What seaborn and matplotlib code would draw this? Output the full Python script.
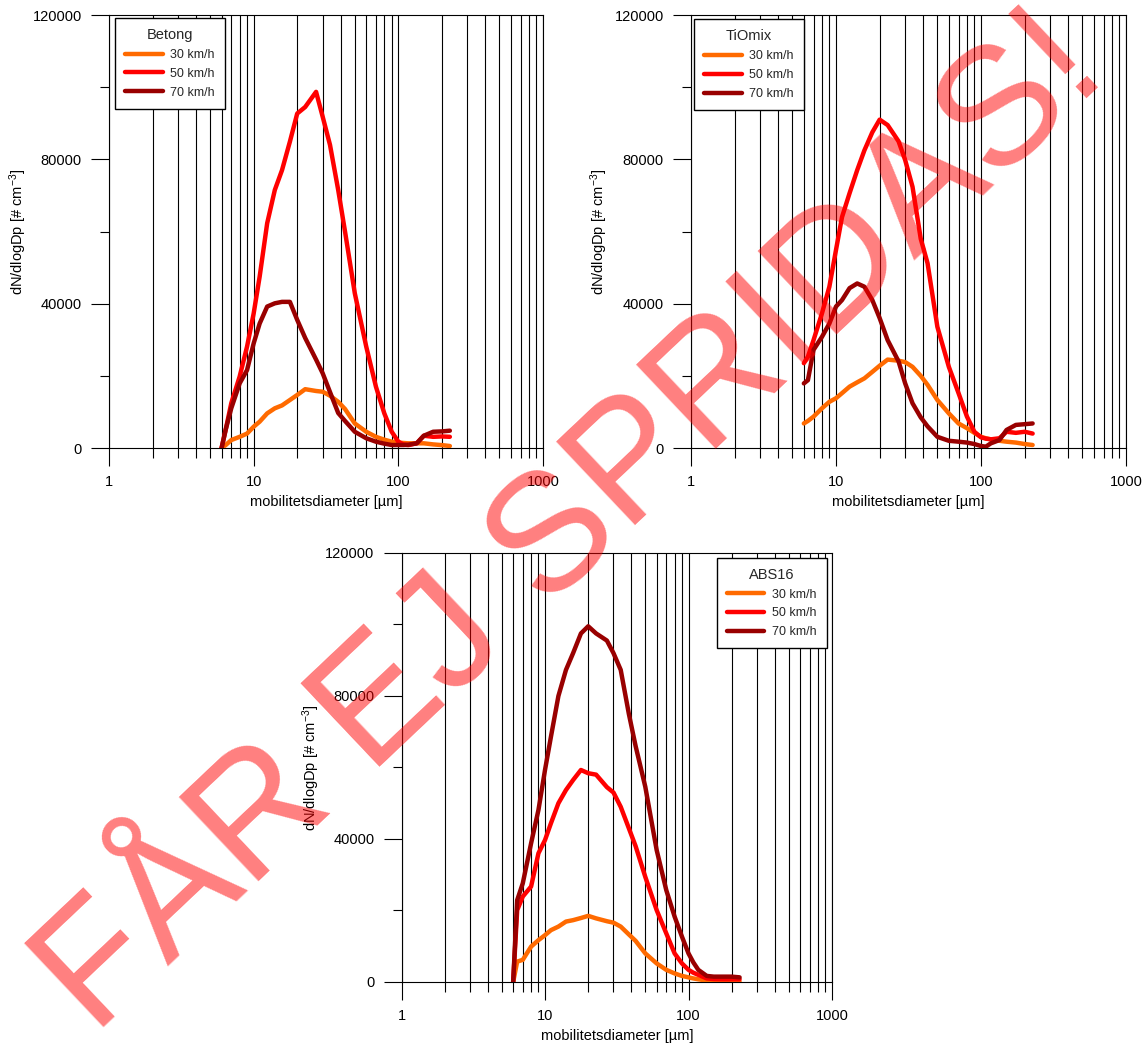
import matplotlib
matplotlib.use("Agg")
import matplotlib.pyplot as plt
from matplotlib.lines import Line2D
import numpy as np
import pandas as pd
import seaborn as sns

# ---------------- data ----------------
diam = [6.0, 6.4, 7.0, 8.0, 9.0, 10.0, 11.0, 12.4, 14.0, 15.7, 17.8, 20.0, 22.7, 27.0,
        30.0, 33.7, 38.4, 42.8, 50.0, 60.0, 70.0, 80.0, 90.0, 100.0, 108.0, 117.0,
        134.0, 150.0, 174.0, 200.0, 227.0]
speeds = ["30 km/h", "50 km/h", "70 km/h"]
panel_names = ["Betong", "TiOmix", "ABS16"]

betong_30 = [0, 800, 2200, 3100, 4000, 5900, 7300, 9600, 11000, 11800, 13300, 14700, 16300, 15800,
             15600, 14500, 12800, 10800, 6800, 4500, 3100, 2300, 1750, 1500, 1400, 1300,
             1300, 1300, 1000, 800, 550]
betong_50 = [0, 5000, 12400, 19800, 28100, 37300, 47500, 62300, 71500, 77000, 84900, 92700, 94500, 98700,
             91800, 84000, 71500, 60000, 42900, 28100, 17000, 9600, 4500, 1750, 1000, 800,
             1300, 3400, 3100, 3200, 3100]
betong_70 = [0, 5000, 11000, 17900, 21600, 29000, 34500, 39200, 40100, 40500, 40500, 35500, 30500, 24500,
             20700, 15500, 9700, 7500, 4500, 2700, 1750, 1200, 830, 830, 830, 900,
             1300, 3400, 4500, 4600, 4800]

tiomix_30 = [6800, 7500, 8700, 11000, 12800, 13800, 15200, 17000, 18200, 19300, 21100, 22800, 24500, 24200,
             23800, 22500, 20000, 17500, 13300, 9600, 6800, 5500, 4200, 3100, 2700, 2400,
             2000, 1750, 1500, 1100, 830]
tiomix_50 = [23500, 25300, 29900, 37300, 44700, 54900, 64000, 70600, 77000, 82500, 87500, 91000, 89500, 85000,
             79800, 72400, 58000, 51200, 33600, 22500, 15200, 8700, 4500, 2950, 2600, 2400,
             2700, 4500, 4200, 4500, 4000]
tiomix_70 = [17900, 18800, 27200, 30800, 34500, 39200, 41000, 44300, 45600, 44700, 41000, 36000, 29900, 24000,
             17900, 12400, 8500, 6000, 3100, 2000, 1750, 1500, 1100, 550, 370, 1300,
             2200, 5000, 6400, 6600, 6800]

abs16_30 = [0, 5700, 6200, 9900, 11700, 13100, 14500, 15500, 16900, 17300, 17900, 18500, 17800, 17000,
            16600, 15500, 13300, 11500, 8000, 5200, 3400, 2400, 1700, 1300, 1000, 750,
            400, 300, 200, 150, 100]
abs16_50 = [0, 20100, 23900, 26700, 36000, 39700, 44400, 50000, 53700, 56500, 59300, 58400, 58000, 54500,
            53000, 49000, 43000, 38000, 29400, 20100, 13600, 8000, 5200, 3400, 2600, 2000,
            1000, 800, 750, 750, 750]
abs16_70 = [0, 22900, 27600, 38800, 48100, 59300, 68600, 80000, 87300, 92000, 97500, 99500, 97500, 95500,
            92000, 87300, 75000, 66000, 54600, 36900, 25700, 18300, 12700, 8000, 5500, 3400,
            1700, 1500, 1500, 1500, 1300]

x_major = [1, 10, 100, 1000]
x_major_labels = ["1", "10", "100", "1000"]
y_major = [0, 40000, 80000, 120000]
y_major_labels = ["0", "40000", "80000", "120000"]
y_minor = [20000, 60000, 100000]

colors = {"30 km/h": "#FF6A00", "50 km/h": "#FF0000", "70 km/h": "#990000"}

# ---------------- style ----------------
sns.set_theme(style="ticks")
plt.rcParams["font.family"] = ["Liberation Sans", "DejaVu Sans"]
plt.rcParams["mathtext.fontset"] = "custom"
plt.rcParams["mathtext.rm"] = "Liberation Sans"
plt.rcParams["mathtext.it"] = "Liberation Sans:italic"
plt.rcParams["mathtext.bf"] = "Liberation Sans:bold"
plt.rcParams["axes.linewidth"] = 0.8

fig = plt.figure(figsize=(11.48, 10.45), dpi=100)
fig.patch.set_facecolor("white")

positions = [
    [0.09495, 0.57129, 0.37805, 0.41435],
    [0.60192, 0.57129, 0.37892, 0.41435],
    [0.34974, 0.06029, 0.37500, 0.41053],
]
legend_cfg = [
    ("upper left", (0.014, 0.993)),
    ("upper left", (0.007, 0.990)),
    ("upper right", (0.9875, 0.989)),
]
panel_series = [
    (betong_30, betong_50, betong_70),
    (tiomix_30, tiomix_50, tiomix_70),
    (abs16_30, abs16_50, abs16_70),
]

minor_x = [m * 10 ** e for e in range(0, 3) for m in range(2, 10)]

for pos, name, series, (loc, anchor) in zip(positions, panel_names, panel_series, legend_cfg):
    ax = fig.add_axes(pos)
    df = pd.DataFrame({
        "d": diam * 3,
        "v": list(series[0]) + list(series[1]) + list(series[2]),
        "speed": [speeds[0]] * len(diam) + [speeds[1]] * len(diam) + [speeds[2]] * len(diam),
    })
    sns.lineplot(data=df, x="d", y="v", hue="speed", palette=colors, linewidth=3.2,
                 ax=ax, legend=False, estimator=None, sort=False, zorder=3)
    ax.set_xscale("log")
    ax.set_xlim(1, 1000)
    ax.set_ylim(0, 120000)
    ax.set_xticks(x_major)
    ax.set_xticklabels(x_major_labels)
    ax.set_xticks(minor_x, minor=True)
    ax.set_xticklabels([], minor=True)
    ax.set_yticks(y_major)
    ax.set_yticklabels(y_major_labels)
    ax.set_yticks(y_minor, minor=True)

    ax.grid(True, which="both", axis="x", color="black", linewidth=0.8, alpha=1.0)
    ax.grid(False, axis="y")
    ax.set_axisbelow(True)
    for sp in ax.spines.values():
        sp.set_visible(True)
        sp.set_color("black")
        sp.set_linewidth(0.8)

    ax.tick_params(axis="both", which="major", length=13, width=0.8, color="black",
                   labelsize=10.5, labelcolor="black", direction="out", pad=6.5,
                   bottom=True, left=True, top=False, right=False)
    ax.tick_params(axis="x", which="minor", length=7, width=0.8, color="black",
                   direction="out", bottom=True, top=False)
    ax.tick_params(axis="y", which="minor", length=6.5, width=0.8, color="black",
                   direction="out", left=True, right=False)

    ax.set_xlabel("mobilitetsdiameter [µm]", fontsize=10.5, color="black")
    ax.set_ylabel("dN/dlogDp [# cm$^{\\mathregular{-3}}$]", fontsize=10.5, color="black")
    ax.xaxis.label.set_va("center")
    ax.yaxis.label.set_va("center")
    ax.xaxis.set_label_coords(0.5, -0.125)
    ax.yaxis.set_label_coords(-0.21, 0.5)

    handles = [Line2D([0], [0], color=colors[s], linewidth=3.2) for s in speeds]
    leg = ax.legend(handles, speeds, title=name, loc=loc, bbox_to_anchor=anchor,
                    borderaxespad=0, frameon=True, fancybox=False, edgecolor="black",
                    framealpha=1, fontsize=9, title_fontsize=10.5, handlelength=3.0,
                    handletextpad=0.6, labelspacing=0.55, borderpad=0.8)
    leg.get_frame().set_linewidth(1.0)
    leg.set_zorder(5)

# watermark
fig.text(0.525, 0.467, "FÅR EJ SPRIDAS!", rotation=43.4, rotation_mode="anchor",
         ha="center", va="baseline", fontsize=120, color="red", alpha=0.5,
         family=["Liberation Sans", "DejaVu Sans"], zorder=100)

fig.savefig("out.png", dpi=100, facecolor="white")
